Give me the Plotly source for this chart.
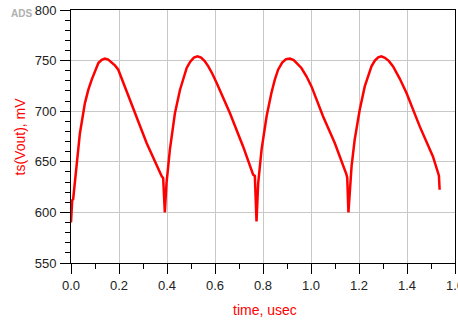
import plotly.graph_objects as go

# time in usec, voltage in mV
time_us = [0.000, 0.005, 0.009, 0.024, 0.037, 0.058, 0.072, 0.086, 0.100, 0.114, 0.128, 0.141, 0.155, 0.170, 0.184, 0.197,
           0.228, 0.259, 0.315, 0.378, 0.384, 0.391,
           0.398, 0.412, 0.433, 0.454, 0.468, 0.482, 0.497, 0.512, 0.527, 0.542, 0.557, 0.572, 0.589, 0.607,
           0.662, 0.717, 0.759, 0.766, 0.773,
           0.780, 0.794, 0.815, 0.835, 0.849, 0.863, 0.880, 0.896, 0.912, 0.928, 0.944, 0.960, 0.981, 1.002,
           1.050, 1.099, 1.148, 1.151, 1.156,
           1.169, 1.182, 1.203, 1.224, 1.238, 1.252, 1.266, 1.280, 1.293, 1.308, 1.325, 1.342, 1.370, 1.398,
           1.453, 1.508, 1.533, 1.536]
vout_mv = [590, 612, 613, 648, 678, 708, 721, 731, 740, 747.6, 750.8, 752, 751, 748, 745, 741,
           722, 701.5, 668.6, 635.6, 634, 600,
           629, 662, 698, 721, 733, 742.7, 749, 753, 754.2, 753, 749.5, 744.3, 737, 727.9,
           698.2, 665.2, 637.3, 636, 591,
           629, 662, 695, 718, 731, 741, 748, 751.5, 752, 750.5, 747, 742.7, 734.5, 724.5,
           695, 668.6, 637.3, 634, 600,
           645.5, 671.8, 701.5, 724.5, 735.5, 744.3, 750, 753.3, 754.2, 752.8, 749.5, 744.3, 732, 718,
           685, 655.3, 636.3, 622.4]

x_title = "time, usec"
y_title = "ts(Vout), mV"

fig = go.Figure()
fig.add_trace(go.Scatter(x=time_us, y=vout_mv, mode="lines",
                         line=dict(color="#ff0000", width=2.5), showlegend=False,
                         hoverinfo="skip"))

axis_common = dict(
    showline=True, linecolor="black", linewidth=1, mirror=True,
    showgrid=True, gridcolor="#c8c8c8", gridwidth=1,
    ticks="outside", ticklen=10, tickcolor="black", tickwidth=1,
    zeroline=False, automargin=False, ticklabeloverflow="allow",
    tickfont=dict(family="Liberation Sans, Arial, sans-serif", size=13, color="#222"),
)

fig.update_layout(
    width=458, height=320,
    margin=dict(l=71, r=3, t=10, b=57),
    paper_bgcolor="white", plot_bgcolor="white",
    font=dict(family="Liberation Sans, Arial, sans-serif"),
    xaxis=dict(range=[0, 1.6], dtick=0.2, tick0=0, tickformat=".1f",
               minor=dict(dtick=0.1, ticks="outside", ticklen=5, tickcolor="black", showgrid=False),
               **axis_common),
    yaxis=dict(range=[550, 800], dtick=50, tick0=550,
               minor=dict(dtick=10, ticks="outside", ticklen=5, tickcolor="black", showgrid=False),
               ticklabelstandoff=1,
               **axis_common),
)

fig.add_annotation(text=x_title, xref="paper", yref="paper", x=0.505, y=-0.186,
                   xanchor="center", yanchor="middle", showarrow=False,
                   font=dict(size=14, color="#ff0000"))
fig.add_annotation(text=y_title, xref="paper", yref="paper", x=-0.133, y=0.5,
                   xanchor="center", yanchor="middle", showarrow=False, textangle=-90,
                   font=dict(size=14, color="#ff0000"))
fig.add_annotation(text="<b>ADS</b>", xref="paper", yref="paper", x=-0.128, y=0.985,
                   xanchor="center", yanchor="middle", showarrow=False,
                   font=dict(size=10, color="#b0b0b0"))

fig.write_html("out.html", config={"displayModeBar": False},
               post_script="document.body.style.margin='0';document.body.style.overflow='hidden';")
